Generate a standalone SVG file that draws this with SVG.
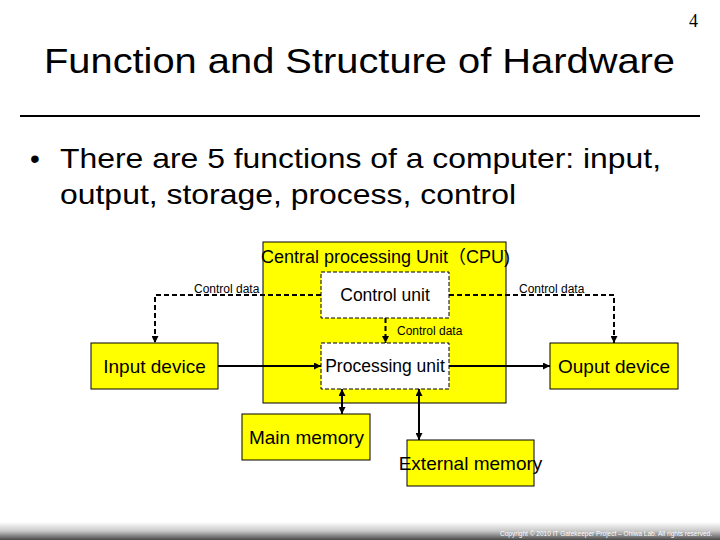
<svg xmlns="http://www.w3.org/2000/svg" width="720" height="540" viewBox="0 0 720 540">
<defs>
<linearGradient id="foot" x1="0" y1="0" x2="0" y2="1">
<stop offset="0" stop-color="#ffffff"/>
<stop offset="0.5" stop-color="#c8c8c8"/>
<stop offset="1" stop-color="#4a4a4a"/>
</linearGradient>
<marker id="ah" viewBox="0 0 10 10" refX="10" refY="5" markerWidth="4" markerHeight="4" orient="auto-start-reverse" markerUnits="strokeWidth">
<path d="M0,0 L10,5 L0,10 z" fill="#000"/>
</marker>
<marker id="ah1" viewBox="0 0 10 10" refX="10" refY="5" markerWidth="7" markerHeight="7" orient="auto-start-reverse" markerUnits="userSpaceOnUse">
<path d="M0,0 L10,5 L0,10 z" fill="#000"/>
</marker>
</defs>
<style>
text{font-family:"Liberation Sans",Arial,"Noto Sans CJK JP",sans-serif;fill:#000}
.box{fill:#ffff00;stroke:#000;stroke-width:1}
.inner{fill:#fff;stroke:#000;stroke-width:1;stroke-dasharray:4,2}
.lbl{font-size:19px;text-anchor:middle}
.lbl2{font-size:17.5px;text-anchor:middle}
.small{font-size:12px}
.dash{fill:none;stroke:#000;stroke-width:2;stroke-dasharray:5,3}
.solid{fill:none;stroke:#000;stroke-width:2}
</style>
<rect width="720" height="540" fill="#fff"/>
<text x="689" y="27" style="font-family:'Liberation Serif',serif;font-size:18px">4</text>
<text x="44" y="73" font-size="35" textLength="631" lengthAdjust="spacingAndGlyphs">Function and Structure of Hardware</text>
<line x1="20" y1="116" x2="700" y2="116" stroke="#000" stroke-width="2"/>
<text x="30" y="168" font-size="28">•</text>
<text x="60" y="168" font-size="28" textLength="601" lengthAdjust="spacingAndGlyphs">There are 5 functions of a computer: input,</text>
<text x="60" y="204" font-size="28" textLength="456" lengthAdjust="spacingAndGlyphs">output, storage, process, control</text>

<g id="cpu">
<rect class="box" x="263" y="242" width="243" height="161"/>
<text x="385.5" y="263" font-size="18" text-anchor="middle">Central processing Unit（CPU)</text>
</g>
<g id="control-unit">
<rect class="inner" x="321" y="272" width="128" height="46"/>
<text class="lbl2" x="385" y="301">Control unit</text>
</g>
<g id="processing-unit">
<rect class="inner" x="321" y="343" width="128" height="46"/>
<text class="lbl2" x="385" y="372">Processing unit</text>
</g>
<g id="input-device">
<rect class="box" x="91" y="343" width="127" height="46"/>
<text class="lbl" x="154.5" y="373">Input device</text>
</g>
<g id="output-device">
<rect class="box" x="550" y="343" width="128" height="46"/>
<text class="lbl" x="614" y="373">Ouput device</text>
</g>
<g id="main-memory">
<rect class="box" x="242" y="414" width="128" height="46"/>
<text class="lbl" x="306.5" y="444">Main memory</text>
</g>
<g id="external-memory">
<rect class="box" x="407" y="440" width="127" height="46"/>
<text class="lbl" x="470.5" y="470">External memory</text>
</g>

<g id="connectors">
<path class="dash" d="M321,295 H155 V343" marker-end="url(#ah1)"/>
<path class="dash" d="M449,295 H614 V343" marker-end="url(#ah1)"/>
<path class="dash" d="M385.5,318 V343" marker-end="url(#ah1)"/>
<path class="solid" d="M218,366 H321" marker-end="url(#ah1)"/>
<path class="solid" d="M449,366 H550" marker-end="url(#ah1)"/>
<path class="solid" d="M342,389 V414" marker-start="url(#ah1)" marker-end="url(#ah1)"/>
<path class="solid" d="M419,389 V440" marker-start="url(#ah1)" marker-end="url(#ah1)"/>
<text class="small" x="194" y="293">Control data</text>
<text class="small" x="519" y="293">Control data</text>
<text class="small" x="397" y="335">Control data</text>
</g>

<rect x="0" y="522" width="720" height="18" fill="url(#foot)"/>
<text x="500" y="536" font-size="6.5" textLength="212" lengthAdjust="spacingAndGlyphs" style="fill:#fff">Copyright © 2010 IT Gatekeeper Project – Ohiwa Lab. All rights reserved.</text>
</svg>
